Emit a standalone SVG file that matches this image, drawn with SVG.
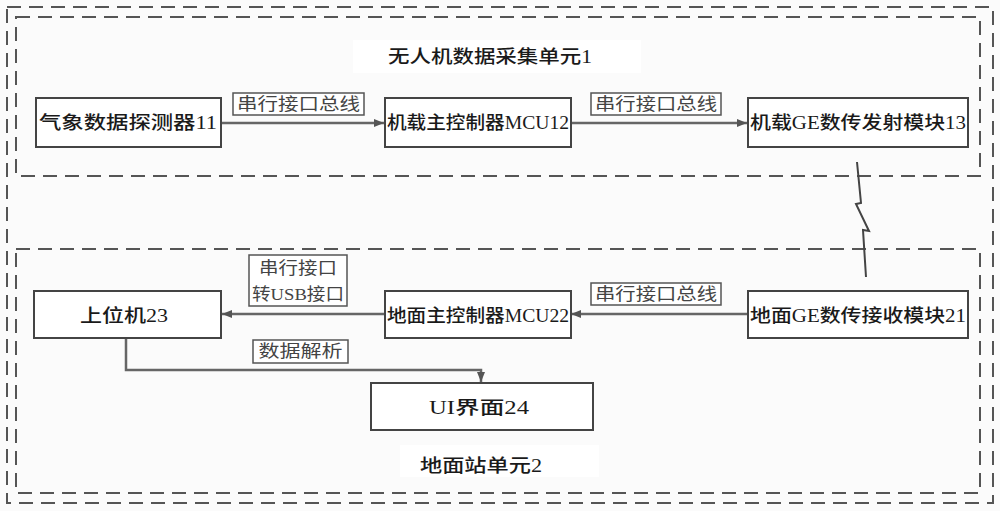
<svg xmlns="http://www.w3.org/2000/svg" width="1000" height="511" viewBox="0 0 1000 511">
<defs>
<style>
.bg{fill:#fbfbfb}
.dash{fill:none;stroke:#555;stroke-width:2;stroke-dasharray:14 8}
.box{fill:#fff;stroke:#444;stroke-width:2}
.lbl{fill:#fff;stroke:#555;stroke-width:1.5}
.wh{fill:#fff}
.t{font-family:"Liberation Serif","Noto Sans CJK SC",serif;font-size:18px;font-weight:500;fill:#1a1a1a;text-anchor:middle;dominant-baseline:central}
.lt{font-family:"Liberation Serif","Noto Sans CJK SC",serif;font-size:17px;fill:#444;text-anchor:middle;dominant-baseline:central}
.c{fill:none;stroke:#666;stroke-width:2.5}
</style>
<marker id="ah" viewBox="0 0 10 10" refX="10" refY="5" markerWidth="4" markerHeight="4" orient="auto" markerUnits="strokeWidth">
<path d="M0,1 L10,5 L0,9 Z" fill="#555"/>
</marker>
</defs>
<rect class="bg" x="0" y="0" width="1000" height="511"/>
<g id="outer">
<rect class="dash" x="7" y="7" width="986" height="496"/>
</g>
<g id="unit1">
<rect class="dash" x="16" y="17" width="964" height="159"/>
<rect class="wh" x="353" y="40" width="288" height="33"/>
<text class="t" x="490" y="57" textLength="204" lengthAdjust="spacingAndGlyphs">无人机数据采集单元1</text>
</g>
<g id="unit2">
<rect class="dash" x="16" y="249" width="964" height="244"/>
<rect class="wh" x="400" y="445" width="199" height="32"/>
<text class="t" x="481" y="466" textLength="122" lengthAdjust="spacingAndGlyphs">地面站单元2</text>
</g>
<g id="connectors">
<line class="c" x1="221" y1="123" x2="384" y2="123" marker-end="url(#ah)"/>
<line class="c" x1="571" y1="123" x2="747" y2="123" marker-end="url(#ah)"/>
<line class="c" x1="747" y1="314" x2="571" y2="314" marker-end="url(#ah)"/>
<line class="c" x1="384" y1="314" x2="222" y2="314" marker-end="url(#ah)"/>
<polyline class="c" points="126,339 126,370 481,370 481,382" marker-end="url(#ah)"/>
<path d="M857,162 L861,203 L856,204 L869,231 L863,230 L866,277" fill="none" stroke="#444" stroke-width="2"/>
<g id="lbl1"><rect class="lbl" x="233" y="93" width="131" height="22"/><text class="lt" x="298.5" y="104" textLength="123" lengthAdjust="spacingAndGlyphs">串行接口总线</text></g>
<g id="lbl2"><rect class="lbl" x="591" y="93" width="130" height="22"/><text class="lt" x="656" y="104" textLength="122" lengthAdjust="spacingAndGlyphs">串行接口总线</text></g>
<g id="lbl3"><rect class="lbl" x="591" y="283" width="130" height="22"/><text class="lt" x="656" y="294" textLength="122" lengthAdjust="spacingAndGlyphs">串行接口总线</text></g>
<g id="lbl4"><rect class="lbl" x="249" y="255" width="98" height="51"/><text class="lt" x="298" y="268" textLength="78" lengthAdjust="spacingAndGlyphs">串行接口</text><text class="lt" x="298" y="294" textLength="92" lengthAdjust="spacingAndGlyphs">转USB接口</text></g>
<g id="lbl5"><rect class="lbl" x="253" y="340" width="95" height="23"/><text class="lt" x="300.5" y="351.5" textLength="84" lengthAdjust="spacingAndGlyphs">数据解析</text></g>
</g>
<g id="n11"><rect class="box" x="36" y="98" width="185" height="49"/><text class="t" x="128" y="123" textLength="178" lengthAdjust="spacingAndGlyphs">气象数据探测器11</text></g>
<g id="n12"><rect class="box" x="385" y="98" width="186" height="49"/><text class="t" x="478" y="123" textLength="182" lengthAdjust="spacingAndGlyphs">机载主控制器MCU12</text></g>
<g id="n13"><rect class="box" x="748" y="98" width="220" height="49"/><text class="t" x="858" y="123" textLength="216" lengthAdjust="spacingAndGlyphs">机载GE数传发射模块13</text></g>
<g id="n23"><rect class="box" x="34" y="291" width="187" height="47"/><text class="t" x="124" y="316" font-size="20" textLength="88" lengthAdjust="spacingAndGlyphs">上位机23</text></g>
<g id="n22"><rect class="box" x="385" y="291" width="186" height="47"/><text class="t" x="478" y="316" textLength="182" lengthAdjust="spacingAndGlyphs">地面主控制器MCU22</text></g>
<g id="n21"><rect class="box" x="748" y="291" width="220" height="47"/><text class="t" x="858" y="316" textLength="216" lengthAdjust="spacingAndGlyphs">地面GE数传接收模块21</text></g>
<g id="n24"><rect class="box" x="371" y="383" width="222" height="47"/><text class="t" x="479" y="408" font-size="19" textLength="100" lengthAdjust="spacingAndGlyphs">UI界面24</text></g>
</svg>
